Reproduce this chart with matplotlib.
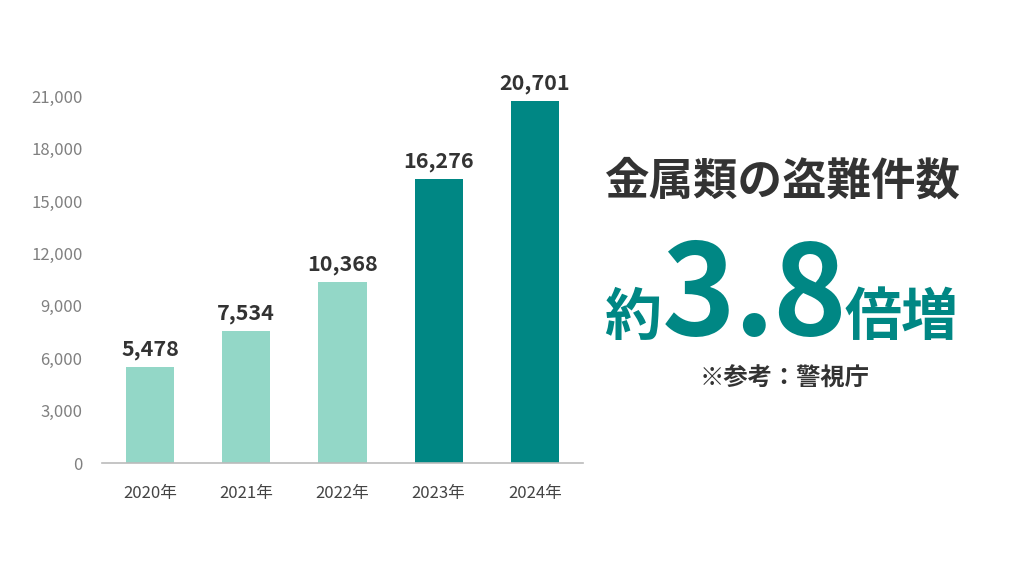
import matplotlib as mpl
mpl.use('Agg')
import matplotlib.pyplot as plt
from matplotlib.ticker import FuncFormatter

plt.rcParams['font.family'] = ['Noto Sans CJK JP', 'DejaVu Sans']

# data
years = ['2020年', '2021年', '2022年', '2023年', '2024年']
cases = [5478, 7534, 10368, 16276, 20701]
yticks = [0, 3000, 6000, 9000, 12000, 15000, 18000, 21000]

light = '#93d7c7'
teal = '#008784'
dark = '#333333'
colors = [light, light, light, teal, teal]

fig = plt.figure(figsize=(10.24, 5.76), dpi=100)
ax = fig.add_axes([0.0996, 0.196, 0.4697, 0.6675])

x = list(range(len(years)))
ax.bar(x, cases, width=0.5, color=colors, zorder=2)
for xi, v in zip(x, cases):
	ax.annotate(f'{v:,}', (xi, v), xytext=(0, 5), textcoords='offset points',
				ha='center', va='bottom', fontsize=15.5, fontweight='bold', color=dark)

ax.set_xlim(-0.5, 4.5)
ax.set_ylim(0, 22000)
ax.set_xticks(x)
ax.set_xticklabels(years)
ax.set_yticks(yticks)
ax.yaxis.set_major_formatter(FuncFormatter(lambda v, p: f'{int(v):,}'))
ax.tick_params(axis='x', length=0, pad=16, labelsize=12, labelcolor='#444444')
ax.tick_params(axis='y', length=0, pad=14, labelsize=12, labelcolor='#808080')
for s in ['top', 'right', 'left']:
	ax.spines[s].set_visible(False)
ax.spines['bottom'].set_color('#bbbbbb')
ax.spines['bottom'].set_linewidth(1.2)

# right side text
fig.text(782 / 1024, 1 - 182 / 576, '金属類の盗難件数', ha='center', va='center',
		fontsize=32, fontweight='bold', color=dark)
base = 1 - 335 / 576
fig.text(604 / 1024, base, '約', ha='left', va='baseline', fontsize=41, fontweight='bold', color=teal)
fig.text(699 / 1024, base, '3', ha='center', va='baseline', fontsize=90, fontweight='bold', color=teal)
fig.text(753 / 1024, base, '.', ha='center', va='baseline', fontsize=90, fontweight='bold', color=teal)
fig.text(809 / 1024, base, '8', ha='center', va='baseline', fontsize=90, fontweight='bold', color=teal)
fig.text(959 / 1024, base, '倍増', ha='right', va='baseline', fontsize=41, fontweight='bold', color=teal)
fig.text(785 / 1024, 1 - 379 / 576, '※参考：警視庁', ha='center', va='center',
		fontsize=17.5, fontweight='bold', color=dark)

plt.savefig('out.png', dpi=100)
plt.close(fig)
